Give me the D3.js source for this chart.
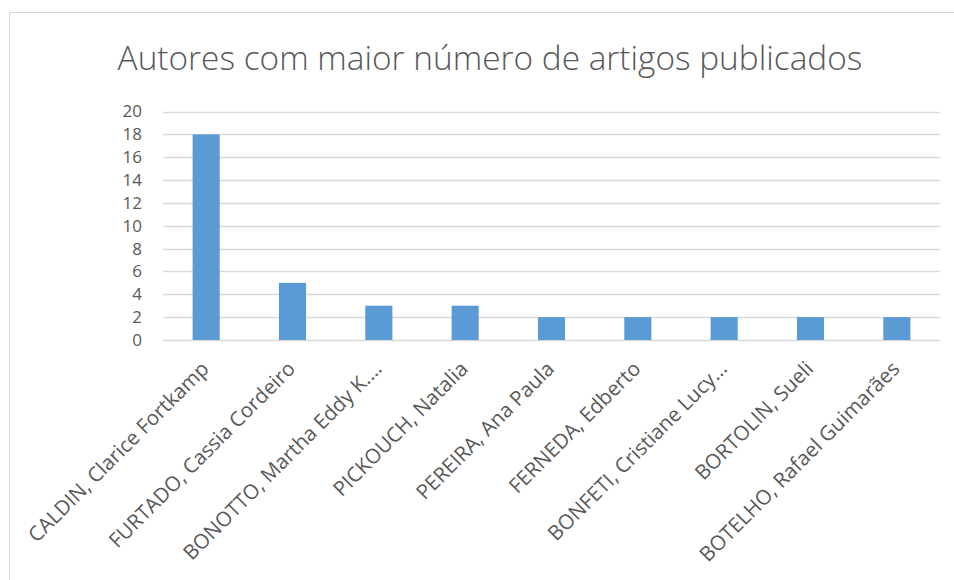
<!DOCTYPE html>
<html>
<head>
<meta charset="utf-8">
<script src="https://cdn.jsdelivr.net/npm/d3@7"></script>
<style>
  body { margin: 0; background: #fff; }
  text { font-family: "Open Sans", sans-serif; fill: #595959; }
</style>
</head>
<body>
<script>
var autores = [
  "CALDIN, Clarice Fortkamp",
  "FURTADO, Cassia Cordeiro",
  "BONOTTO, Martha Eddy K.…",
  "PICKOUCH, Natalia",
  "PEREIRA, Ana Paula",
  "FERNEDA, Edberto",
  "BONFETI, Cristiane Lucy…",
  "BORTOLIN, Sueli",
  "BOTELHO, Rafael Guimarães"
];
var artigos = [18, 5, 3, 3, 2, 2, 2, 2, 2];
var yTicks = [0, 2, 4, 6, 8, 10, 12, 14, 16, 18, 20];
var titulo = "Autores com maior número de artigos publicados";

var config = {
  width: 954,
  height: 580,
  left: 163,
  right: 940,
  top: 111.5,
  bottom: 340
};

var svg = d3.select("body").append("svg")
  .attr("width", config.width)
  .attr("height", config.height);

// chart frame
svg.append("rect")
  .attr("x", 9.5).attr("y", 12.5)
  .attr("width", 1000).attr("height", 1000)
  .attr("fill", "none")
  .attr("stroke", "#d9d9d9");

var x = d3.scaleBand()
  .domain(autores)
  .range([config.left, config.right])
  .paddingInner(0.686)
  .paddingOuter(0.343);

var y = d3.scaleLinear()
  .domain([0, 20])
  .range([config.bottom, config.top]);

// gridlines
svg.append("g")
  .selectAll("line")
  .data(yTicks)
  .enter()
    .append("line")
    .attr("x1", config.left).attr("x2", config.right)
    .attr("y1", function(d) { return Math.round(y(d)) + 0.5; })
    .attr("y2", function(d) { return Math.round(y(d)) + 0.5; })
    .attr("stroke", "#d9d9d9")
    .attr("stroke-width", 1.3);

// y labels
var yAxis = svg.append("g")
  .attr("transform", "translate(" + (config.left - 21) + ",0)")
  .call(d3.axisLeft(y).tickValues(yTicks).tickSize(0).tickPadding(0));
yAxis.select(".domain").remove();
yAxis.selectAll("text")
  .attr("font-size", 17)
  .attr("font-family", "Open Sans")
  .attr("fill", "#595959");

// bars
svg.append("g")
  .selectAll("rect")
  .data(artigos)
  .enter()
    .append("rect")
    .attr("x", function(d, i) { return x(autores[i]); })
    .attr("width", x.bandwidth())
    .attr("y", function(d) { return y(d); })
    .attr("height", function(d) { return y(0) - y(d); })
    .attr("fill", "#5b9bd5");

// x labels
svg.append("g")
  .selectAll("text")
  .data(autores)
  .enter()
    .append("text")
    .attr("text-anchor", "end")
    .attr("font-size", 20.5)
    .attr("transform", function(d) {
      var cx = x(d) + x.bandwidth() / 2;
      return "translate(" + (cx - 1) + "," + (config.bottom + 25) + ") rotate(-45)";
    })
    .attr("dy", "0.35em")
    .text(function(d) { return d; });

// title
var t = svg.append("text")
  .attr("x", 490)
  .attr("y", 70)
  .attr("text-anchor", "middle")
  .attr("font-size", 30)
  .attr("font-weight", 300)
  .text(titulo);
var w = t.node().getComputedTextLength();
t.attr("font-size", 30 * 745 / w);
</script>
</body>
</html>
